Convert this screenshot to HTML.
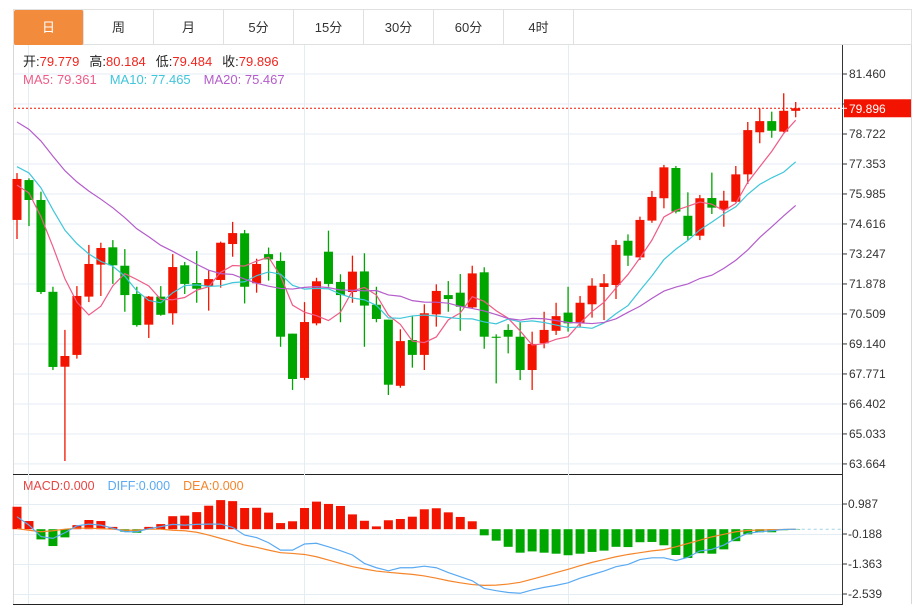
<!DOCTYPE html>
<html><head><meta charset="utf-8">
<style>
html,body{margin:0;padding:0;background:#fff;width:922px;height:606px;overflow:hidden;font-family:"Liberation Sans","Noto Sans CJK SC",sans-serif;}
#tabs{position:absolute;left:13px;top:9px;width:899px;height:36px;border:1px solid #e0e0e0;box-sizing:border-box;display:flex;}
.tab{width:70px;height:35px;line-height:35px;text-align:center;font-size:13px;color:#333;border-right:1px solid #e0e0e0;box-sizing:border-box;}
.tab.on{background:#f28b3c;color:#fff;border-radius:2px;}
svg{position:absolute;left:0;top:0;}
</style></head><body>
<div id="tabs">
<div class="tab on">日</div>
<div class="tab">周</div>
<div class="tab">月</div>
<div class="tab">5分</div>
<div class="tab">15分</div>
<div class="tab">30分</div>
<div class="tab">60分</div>
<div class="tab">4时</div>
</div>
<svg id="chart" width="922" height="606" style="top:0"></svg>
<script>
const opens=[74.80,76.62,75.71,71.52,68.10,68.64,71.30,72.76,73.55,72.71,71.42,70.02,71.30,70.54,72.73,71.92,71.78,72.06,73.70,74.19,71.91,73.24,72.93,69.61,67.59,70.08,73.35,71.97,71.51,72.45,70.93,70.25,67.23,69.32,68.64,70.49,71.37,71.48,70.81,72.41,69.47,69.78,69.47,67.95,69.17,69.74,70.57,70.08,70.95,71.74,71.83,73.85,73.09,74.77,75.79,77.17,74.99,74.08,75.80,75.28,75.63,76.88,78.80,79.31,78.83,79.779];
const closes=[76.67,75.71,71.51,68.09,68.59,71.33,72.79,73.52,72.73,71.37,70.00,71.30,70.47,72.65,71.88,71.66,72.10,73.76,74.20,71.75,72.79,73.00,69.47,67.54,70.14,72.00,71.88,71.37,72.44,70.89,70.28,67.28,69.27,68.64,70.54,71.56,71.19,70.84,72.36,69.47,69.42,69.47,67.95,69.14,69.78,70.41,70.08,71.02,71.80,71.91,73.66,73.17,74.80,75.85,77.20,75.18,74.07,75.79,75.36,75.68,76.88,78.90,79.31,78.87,79.78,79.896];
const highs=[76.94,76.70,76.09,71.75,69.78,71.78,73.66,73.76,73.88,73.47,71.75,71.33,71.78,73.24,72.88,73.38,72.51,73.81,74.71,74.34,73.03,73.54,73.32,69.61,71.05,72.16,74.31,72.32,73.17,73.28,71.75,70.25,69.81,70.43,70.95,71.86,72.01,72.33,72.71,72.64,69.58,70.04,70.13,69.70,70.61,71.02,71.75,71.33,72.14,72.33,73.88,74.14,74.95,76.12,77.31,77.26,76.06,75.94,76.96,76.13,77.26,79.27,79.89,79.74,80.58,80.184];
const lows=[73.93,74.52,71.42,67.95,63.80,68.47,71.05,71.33,71.88,70.61,69.93,69.41,70.43,70.02,71.42,71.02,70.66,71.71,73.12,70.99,71.48,72.03,69.01,67.04,67.49,69.99,71.75,70.13,71.02,69.01,70.13,66.81,67.14,68.06,67.95,69.93,70.61,69.74,70.78,68.92,67.34,68.71,67.49,67.04,68.94,69.55,69.70,69.90,70.34,70.23,71.19,72.70,72.97,74.67,75.33,75.10,73.88,73.88,75.07,74.49,75.60,76.44,78.30,78.55,78.80,79.484];
const priorCloses=[82.4,82.2,82.0,81.8,81.5,81.2,80.9,80.6,80.4,80.1,78.6,78.3,78.1,77.85,77.5,77.51,76.91,74.94,75.92];
const macdHist=[0.88,0.32,-0.40,-0.66,-0.32,0.16,0.36,0.32,0.09,-0.10,-0.14,0.09,0.20,0.51,0.53,0.67,0.92,1.14,1.10,0.83,0.84,0.65,0.24,0.31,0.83,1.08,0.99,0.91,0.58,0.33,0.11,0.35,0.40,0.49,0.78,0.82,0.66,0.48,0.31,-0.24,-0.45,-0.69,-0.92,-0.87,-0.92,-0.96,-1.02,-0.96,-0.89,-0.84,-0.69,-0.70,-0.51,-0.50,-0.63,-1.01,-1.13,-0.94,-0.96,-0.79,-0.47,-0.20,-0.12,-0.12,-0.04,-0.01];
const difValues=[0.49,0.16,-0.29,-0.36,-0.14,0.13,0.20,0.16,0.04,-0.10,-0.10,0.02,0.10,0.19,0.16,0.19,0.20,0.20,0.07,-0.23,-0.33,-0.53,-0.82,-0.82,-0.58,-0.55,-0.69,-0.84,-1.01,-1.34,-1.51,-1.63,-1.51,-1.51,-1.45,-1.51,-1.70,-1.86,-2.02,-2.32,-2.41,-2.48,-2.51,-2.38,-2.28,-2.20,-2.10,-1.92,-1.78,-1.64,-1.47,-1.38,-1.19,-1.12,-1.12,-1.23,-1.10,-0.85,-0.79,-0.62,-0.36,-0.16,-0.10,-0.06,-0.01,0];
const deaValues=[0.02,-0.04,-0.10,-0.06,0,0.04,0.04,0.02,0,-0.04,-0.04,0,0,-0.04,-0.06,-0.12,-0.23,-0.36,-0.49,-0.62,-0.71,-0.82,-0.92,-0.95,-0.99,-1.08,-1.21,-1.34,-1.47,-1.56,-1.64,-1.69,-1.73,-1.77,-1.83,-1.92,-2.02,-2.10,-2.17,-2.20,-2.19,-2.15,-2.08,-1.96,-1.83,-1.70,-1.57,-1.43,-1.30,-1.19,-1.08,-0.99,-0.92,-0.85,-0.80,-0.69,-0.56,-0.43,-0.30,-0.20,-0.10,-0.05,-0.03,-0.02,-0.01,0];
const priceTicks=["81.460","80.091","78.722","77.353","75.985","74.616","73.247","71.878","70.509","69.140","67.771","66.402","65.033","63.664"];
const macdTicks=["0.987","-0.188","-1.363","-2.539"];
const lastPrice=79.896;

const NS="http://www.w3.org/2000/svg";
const svg=document.getElementById('chart');
function mk(tag,attrs,parent){const e=document.createElementNS(NS,tag);for(const k in attrs)e.setAttribute(k,attrs[k]);(parent||svg).appendChild(e);return e;}
const X0=17,DX=11.98,AX=842,RIGHT=912;
const xOf=i=>X0+i*DX;
const yP=p=>74+(81.46-p)*30/1.36915;
const yM=v=>529.2-v*30/1.1753;
const RED="#f21400",GREEN="#00a600";

// frame
const frame=mk('g',{});


mk('line',{x1:13.5,y1:45,x2:13.5,y2:604,stroke:'#d8d8d8'},frame);
mk('line',{x1:RIGHT-0.5,y1:45,x2:RIGHT-0.5,y2:604,stroke:'#d8d8d8'},frame);
// grids
const grid=mk('g',{});


priceTicks.forEach((t,k)=>{const y=yP(parseFloat(t));mk('line',{x1:14,x2:AX,y1:y,y2:y,stroke:'#e4edf4'},grid);});
macdTicks.forEach(t=>{const y=Math.round(yM(parseFloat(t)))+0.5;mk('line',{x1:14,x2:AX,y1:y,y2:y,stroke:'#e4edf4'},grid);});
[28.5,304.5,568.5].forEach(x=>mk('line',{x1:x,x2:x,y1:45,y2:604,stroke:'#e4edf4'},grid));
mk('line',{x1:13,x2:AX,y1:474.5,y2:474.5,stroke:'#222'},frame);
mk('line',{x1:13,x2:AX,y1:604.5,y2:604.5,stroke:'#222'},frame);
mk('line',{x1:AX+0.5,x2:AX+0.5,y1:45,y2:605,stroke:'#333'},frame);

// y axis labels
const yax=mk('g',{'font-size':12,fill:'#333','font-family':'Liberation Sans, sans-serif'});


priceTicks.forEach(t=>{const y=yP(parseFloat(t));mk('line',{x1:AX,x2:AX+5,y1:y,y2:y,stroke:'#333'},yax);const tx=mk('text',{x:AX+7,y:y+4},yax);tx.textContent=t;});
const max=mk('g',{'font-size':12,fill:'#333'});


macdTicks.forEach(t=>{const y=yM(parseFloat(t));mk('line',{x1:AX,x2:AX+5,y1:y,y2:y,stroke:'#333'},max);const tx=mk('text',{x:AX+6,y:y+4},max);tx.textContent=t;});

// candles
const cg=mk('g',{});


opens.forEach((o,i)=>{const c=closes[i],col=c>=o?RED:GREEN,x=xOf(i);
 const g=mk('g',{},cg);
 
 
 mk('line',{x1:x,x2:x,y1:yP(highs[i]),y2:yP(lows[i]),stroke:col,'stroke-width':1.3},g);
 const t=yP(Math.max(o,c)),b=yP(Math.min(o,c));
 mk('rect',{x:x-4.5,y:t,width:9,height:Math.max(1,b-t),fill:col},g);
});

// moving averages
const all=priorCloses.concat(closes);const P=priorCloses.length;
function ma(n){return closes.map((_,i)=>{let s=0;for(let k=0;k<n;k++)s+=all[P+i-k];return s/n;});}
[[5,'#ef5b87','ma5-line'],[10,'#3fc6da','ma10-line'],[20,'#b45ccb','ma20-line']].forEach(([n,col,name])=>{
 const v=ma(n);const pl=mk('polyline',{points:v.map((p,i)=>xOf(i)+','+yP(p)).join(' '),fill:'none',stroke:col,'stroke-width':1.2});
 
 
});

// last price line + tag
const lp=mk('line',{x1:14,x2:AX,y1:yP(lastPrice),y2:yP(lastPrice),stroke:RED,'stroke-dasharray':'2,2'});


const tag=mk('g',{});


mk('rect',{x:AX+2,y:yP(lastPrice)-9,width:RIGHT-AX-3,height:18,fill:RED},tag);
mk('line',{x1:AX,x2:AX+5,y1:yP(lastPrice),y2:yP(lastPrice),stroke:'#fff'},tag);
const tt=mk('text',{x:AX+7,y:yP(lastPrice)+4.5,fill:'#fff','font-size':12},tag);tt.textContent=lastPrice.toFixed(3);

// MACD
const hg=mk('g',{});


const z=yM(0);
macdHist.forEach((v,i)=>{const x=xOf(i),y=yM(v);const r=mk('rect',{x:x-4.5,y:Math.min(y,z),width:9,height:Math.max(0.5,Math.abs(y-z)),fill:v>=0?RED:GREEN},hg);
 
 
});
const zl=mk('line',{x1:xOf(macdHist.length-1),x2:AX,y1:z,y2:z,stroke:'#9fd3e8','stroke-dasharray':'3,3'});


const dea=mk('polyline',{points:deaValues.map((v,i)=>xOf(i)+','+yM(v)).join(' '),fill:'none',stroke:'#f5852a','stroke-width':1.2});


const dif=mk('polyline',{points:difValues.map((v,i)=>xOf(i)+','+yM(v)).join(' '),fill:'none',stroke:'#5aaaf2','stroke-width':1.2});


</script>
<svg width="922" height="606" style="pointer-events:none">
<g font-size="13" font-family="Liberation Sans, Noto Sans CJK SC, sans-serif">
<text x="23" y="66"><tspan fill="#222">开:</tspan><tspan fill="#f0261e">79.779</tspan><tspan fill="#222" dx="10">高:</tspan><tspan fill="#f0261e">80.184</tspan><tspan fill="#222" dx="10">低:</tspan><tspan fill="#f0261e">79.484</tspan><tspan fill="#222" dx="10">收:</tspan><tspan fill="#f0261e">79.896</tspan></text>
</g>
<g font-size="13" font-family="Liberation Sans, sans-serif">
<text x="23" y="84"><tspan fill="#ef5b87">MA5: 79.361</tspan><tspan fill="#3fc6da" dx="13">MA10: 77.465</tspan><tspan fill="#b45ccb" dx="13">MA20: 75.467</tspan></text>
</g>
<g font-size="12.5" font-family="Liberation Sans, sans-serif">
<text x="23" y="490"><tspan fill="#e84545">MACD:0.000</tspan><tspan fill="#5aaaf2" dx="13">DIFF:0.000</tspan><tspan fill="#f5852a" dx="13">DEA:0.000</tspan></text>
</g>
</svg>
</body></html>
